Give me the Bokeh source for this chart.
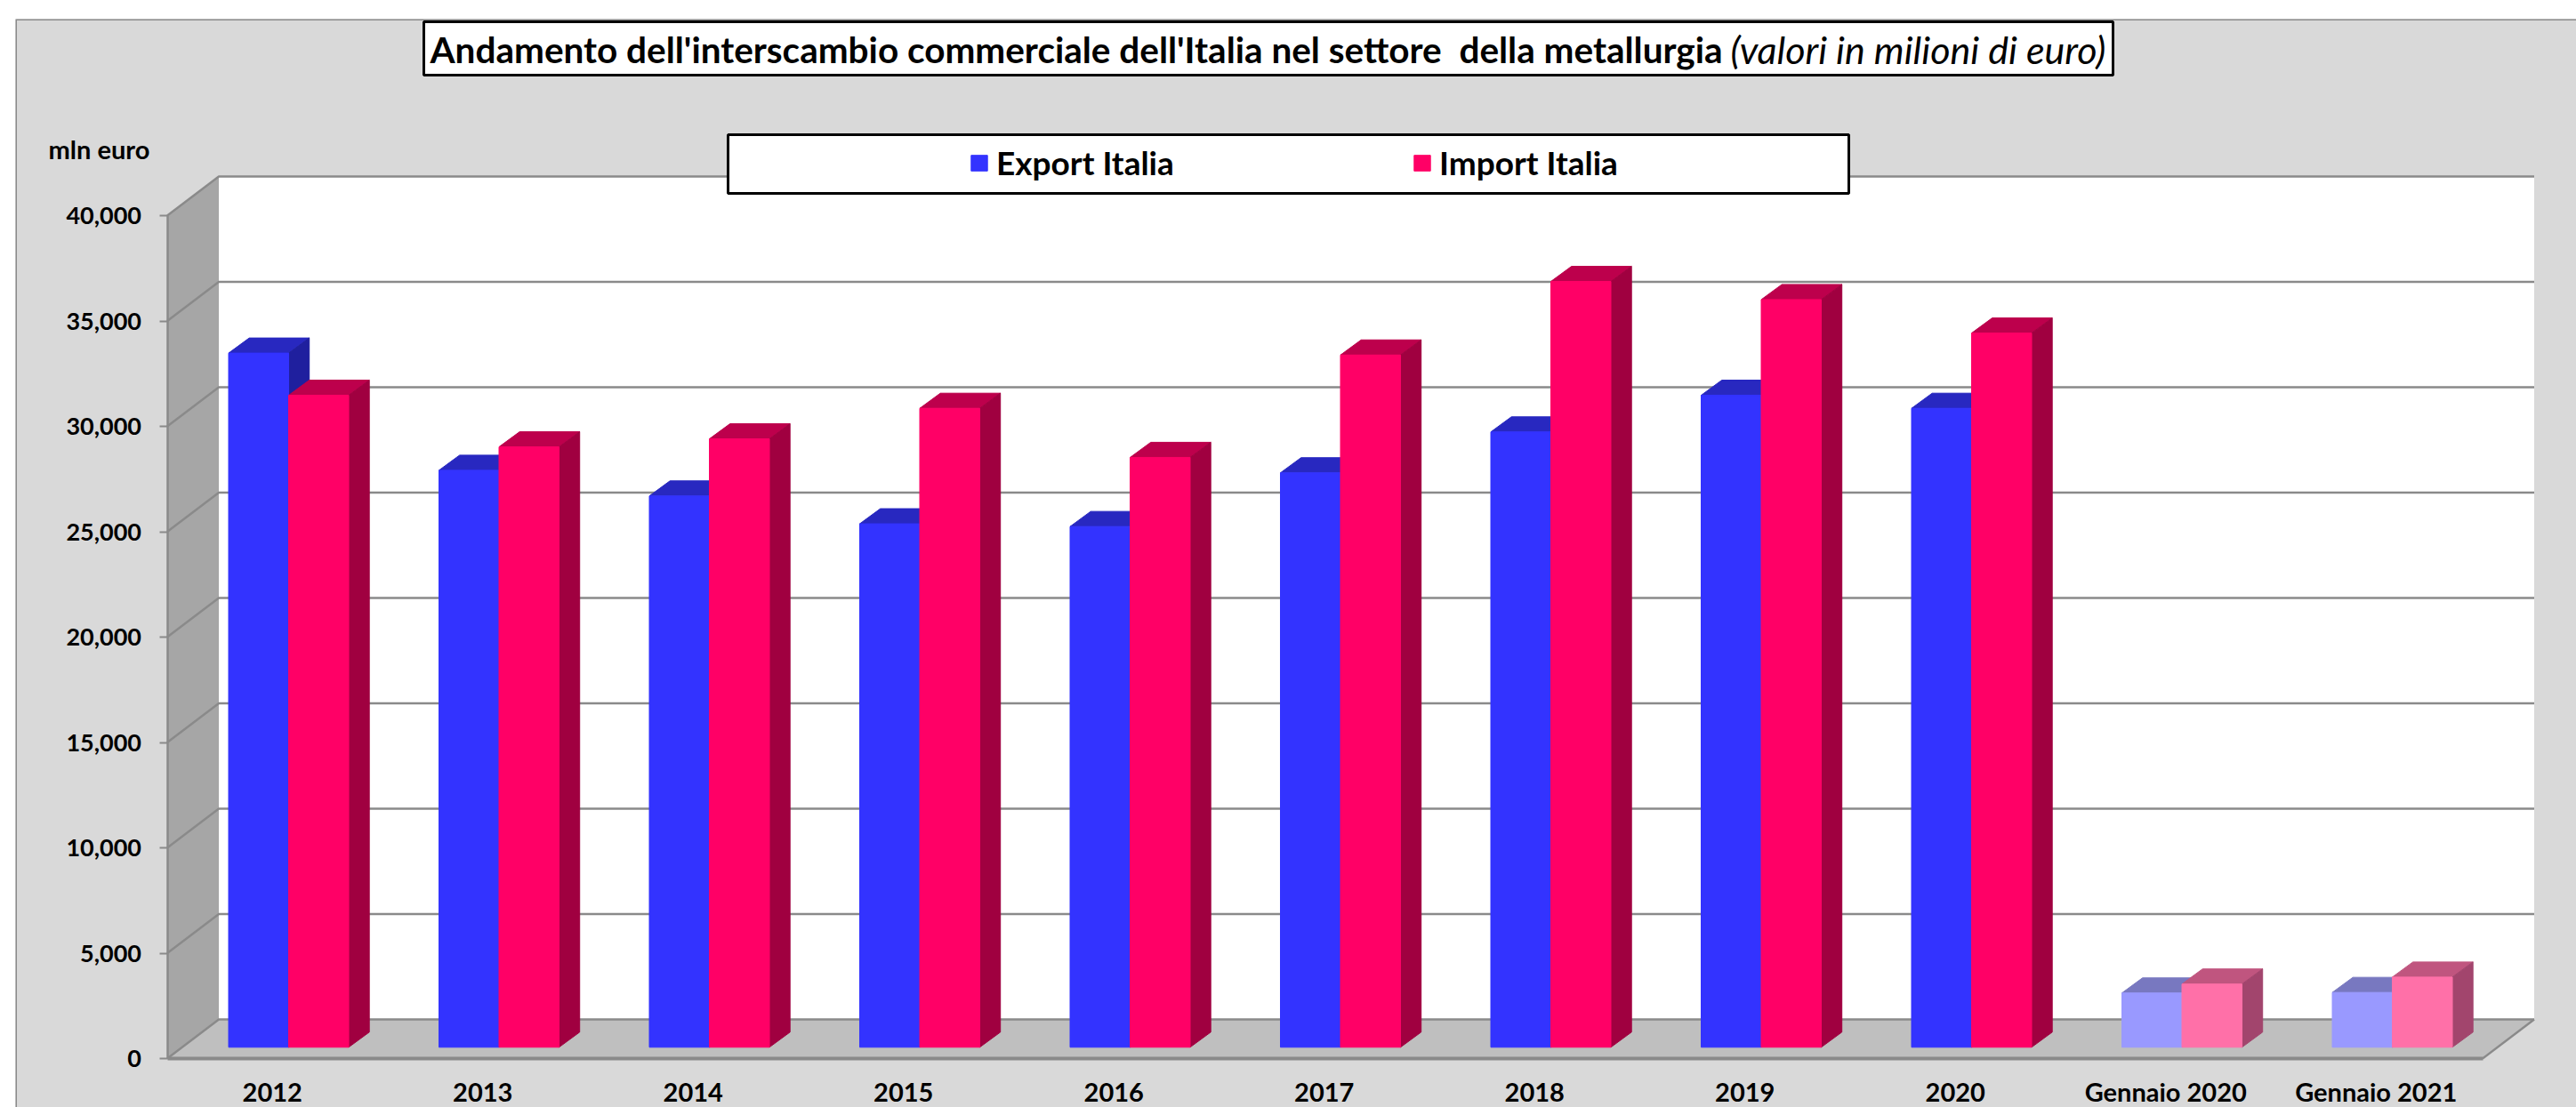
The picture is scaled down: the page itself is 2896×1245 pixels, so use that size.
from bokeh.plotting import figure
from bokeh.embed import file_html
from bokeh.resources import INLINE
from bokeh.core.properties import value
from bokeh.models import (BoxAnnotation, FixedTicker, Label, Legend, LegendItem,
                          NumeralTickFormatter, Range1d)

categories = ["2012", "2013", "2014", "2015", "2016", "2017", "2018", "2019", "2020",
              "Gennaio 2020", "Gennaio 2021"]
export_italia = [32940, 27380, 26160, 24840, 24710, 27260, 29200, 30940, 30320, 2575, 2600]
import_italia = [30940, 28490, 28870, 30320, 27990, 32850, 36340, 35480, 33890, 3000, 3330]
y_ticks = [0, 5000, 10000, 15000, 20000, 25000, 30000, 35000, 40000]

BLUE = ["#3333FF"] * 9 + ["#9999FF"] * 2
BLUE_TOP = ["#2828C0"] * 9 + ["#7878C0"] * 2
BLUE_SIDE = ["#1F1F9E"] * 9 + ["#6A6AA8"] * 2
RED = ["#FF0066"] * 9 + ["#FF70A8"] * 2
RED_TOP = ["#BD004C"] * 9 + ["#C0557F"] * 2
RED_SIDE = ["#A00040"] * 9 + ["#A2456D"] * 2

FONT = "Lato"
GRID = "#8A8A8A"
BG = "#D9D9D9"

# page pixel layout
PAGE_L, PAGE_T = 17, 21
AX_L, AX_B = 187.5, 1190
CAT_PX = 236.5
VAL_PX = 118.5 / 5000


def X(px):
    return -0.5 + (px - AX_L) / CAT_PX


def Y(py):
    return (AX_B - py) / VAL_PX


WALL_DX = 58 / CAT_PX
WALL_DY = 44 / VAL_PX
BAR_W = 67.5 / CAT_PX
BAR_SHIFT = 18.25 / CAT_PX
BAR_Y0 = 12.7 / VAL_PX
BAR_DX = 23.2 / CAT_PX
BAR_DY = 17 / VAL_PX
N = len(categories)
X0, X1 = X(AX_L), X(2790.5)
YMAX = y_ticks[-1]

p = figure(width=2896 - PAGE_L, height=1245 - PAGE_T, output_backend="svg", toolbar_location=None,
           x_range=Range1d(X(PAGE_L), X(2896)), y_range=Range1d(Y(1245), Y(PAGE_T)),
           min_border_left=0, min_border_right=0, min_border_top=0, min_border_bottom=0,
           margin=(PAGE_T, 0, 0, PAGE_L),
           background_fill_color=BG, border_fill_color=BG, outline_line_color=None, tools="")
p.grid.visible = False

# walls and floor
p.patch([X0, X0 + WALL_DX, X0 + WALL_DX, X0], [0, WALL_DY, YMAX + WALL_DY, YMAX], fill_color="#A6A6A6", line_color=None)
p.patch([X0 + WALL_DX, X1 + WALL_DX, X1 + WALL_DX, X0 + WALL_DX], [WALL_DY, WALL_DY, YMAX + WALL_DY, YMAX + WALL_DY],
        fill_color="#FFFFFF", line_color=None)
p.patch([X0, X1, X1 + WALL_DX, X0 + WALL_DX], [0, 0, WALL_DY, WALL_DY], fill_color="#BFBFBF", line_color=None)

# gridlines: back wall + side wall
grid_x, grid_y = [], []
for t in y_ticks:
    grid_x.append([X0, X0 + WALL_DX, X1 + WALL_DX])
    grid_y.append([t, t + WALL_DY, t + WALL_DY])
p.multi_line(grid_x, grid_y, line_color=GRID, line_width=2.5)
p.line([X1, X1 + WALL_DX], [0, WALL_DY], line_color=GRID, line_width=2.5)

# bars, front to side
legend_r = {}
for i in range(N):
    c = i + BAR_SHIFT
    for j, (vals, front, top, side) in enumerate([(export_italia, BLUE, BLUE_TOP, BLUE_SIDE),
                                                  (import_italia, RED, RED_TOP, RED_SIDE)]):
        l = c - BAR_W + j * BAR_W
        r = l + BAR_W
        v = vals[i] + BAR_Y0
        p.patch([l, r, r + BAR_DX, l + BAR_DX], [v, v, v + BAR_DY, v + BAR_DY], fill_color=top[i], line_color=top[i], line_width=1)
        p.patch([r, r + BAR_DX, r + BAR_DX, r], [BAR_Y0, BAR_Y0 + BAR_DY, v + BAR_DY, v], fill_color=side[i], line_color=side[i], line_width=1)
        q = p.quad(left=[l], right=[r], bottom=[BAR_Y0], top=[v], fill_color=front[i], line_color=front[i], line_width=1)
        if i == 0:
            legend_r[j] = q

# axes sit inside the frame, at the front edges of the box
ya = p.yaxis[0]
ya.fixed_location = X0
ya.ticker = FixedTicker(ticks=y_ticks)
ya.formatter = NumeralTickFormatter(format="0,0")
ya.bounds = (0, YMAX)
ya.axis_line_color = GRID
ya.axis_line_width = 2.5
ya.major_tick_line_color = GRID
ya.major_tick_line_width = 2
ya.major_tick_in = 0
ya.major_tick_out = 9
ya.minor_tick_line_color = None
ya.major_label_standoff = 20
ya.major_label_text_font = FONT
ya.major_label_text_font_style = "bold"
ya.major_label_text_font_size = "27px"
ya.major_label_text_color = "#000000"

xa = p.xaxis[0]
xa.fixed_location = 0
xa.ticker = FixedTicker(ticks=list(range(N)))
xa.major_label_overrides = {i: c for i, c in enumerate(categories)}
xa.bounds = (X0, X1)
xa.axis_line_color = GRID
xa.axis_line_width = 4
xa.major_tick_line_color = None
xa.minor_tick_line_color = None
xa.major_tick_in = 0
xa.major_tick_out = 0
xa.major_label_standoff = 19
xa.major_label_text_font = FONT
xa.major_label_text_font_style = "bold"
xa.major_label_text_font_size = "29px"
xa.major_label_text_color = "#000000"

# outer chart border (top and left edges are visible)
p.add_layout(BoxAnnotation(left=X(PAGE_L), right=X(3000), top=Y(PAGE_T), bottom=Y(1400),
                           fill_alpha=0, line_color=GRID, line_alpha=1, line_width=3))

# title box and title
p.add_layout(BoxAnnotation(left=X(476), right=X(2375), top=Y(24), bottom=Y(84),
                           fill_color="#FFFFFF", fill_alpha=1, line_color="#000000", line_alpha=1, line_width=3))
p.add_layout(Label(x=X(483), y=Y(55), text="Andamento dell'interscambio commerciale dell'Italia nel settore\u00a0 della metallurgia",
                   text_font=FONT, text_font_style="bold", text_font_size="40.5px", text_color="#000000",
                   text_baseline="middle", text_align="left"))
p.add_layout(Label(x=X(1945), y=Y(55), text="(valori in milioni di euro)",
                   text_font=FONT, text_font_style="italic", text_font_size="43px", text_color="#000000",
                   text_baseline="middle", text_align="left"))

# unit label
p.add_layout(Label(x=X(54), y=Y(167), text="mln euro", text_font=FONT, text_font_style="bold",
                   text_font_size="29px", text_color="#000000", text_baseline="middle", text_align="left"))

# legend box and legend
p.add_layout(BoxAnnotation(left=X(818), right=X(2078), top=Y(151), bottom=Y(217),
                           fill_color="#FFFFFF", fill_alpha=1, line_color="#000000", line_alpha=1, line_width=3))
legend = Legend(items=[LegendItem(label=value("Export Italia"), renderers=[legend_r[0]]),
                       LegendItem(label=value("Import Italia"), renderers=[legend_r[1]])],
                orientation="horizontal", location=(1089 - PAGE_L, 1245 - 205),
                background_fill_alpha=0, border_line_color=None, padding=0, margin=0,
                glyph_width=23, glyph_height=22, label_standoff=8, label_width=203, spacing=264,
                label_text_font=FONT, label_text_font_style="bold", label_text_font_size="37px",
                label_text_color="#000000", label_height=22)
p.add_layout(legend, "center")

open("out.html", "w").write(file_html(p, INLINE))
